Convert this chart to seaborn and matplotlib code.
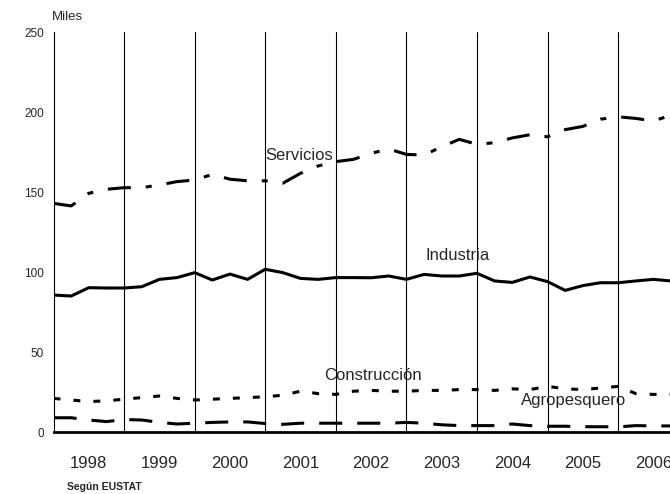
import matplotlib
matplotlib.use('Agg')
import matplotlib.pyplot as plt
import numpy as np
import pandas as pd
import seaborn as sns

# Ocupados por sector (miles), datos trimestrales 1998-2006
anios = [1998, 1999, 2000, 2001, 2002, 2003, 2004, 2005, 2006]
servicios = [142.9, 141.3, 149.2, 151.7, 152.7, 152.7, 154.4, 156.5, 157.5, 161.0,
             158.0, 157.0, 157.0, 155.5, 161.7, 166.3, 169.0, 170.4, 174.2, 176.9,
             173.5, 173.1, 178.3, 182.9, 179.8, 180.8, 183.8, 185.8, 184.5, 189.0,
             191.0, 195.5, 197.0, 196.0, 194.4, 198.0]
industria = [85.6, 85.0, 90.2, 90.0, 90.0, 90.8, 95.4, 96.5, 99.6, 95.0,
             98.7, 95.4, 101.7, 99.6, 96.0, 95.4, 96.5, 96.5, 96.4, 97.5,
             95.4, 98.5, 97.5, 97.5, 99.2, 94.4, 93.5, 96.9, 94.0, 88.5,
             91.5, 93.3, 93.3, 94.4, 95.4, 94.4]
construccion = [21.0, 20.0, 19.0, 19.5, 20.5, 21.5, 22.5, 21.0, 20.0, 20.5,
                21.0, 21.5, 22.0, 23.0, 25.5, 24.0, 23.5, 25.5, 26.0, 25.5,
                25.5, 26.0, 26.0, 26.5, 26.5, 26.0, 27.0, 26.5, 28.5, 27.0,
                26.5, 27.5, 28.5, 24.0, 23.5, 23.5]
agropesquero = [8.9, 8.9, 7.5, 6.5, 7.8, 7.5, 6.0, 5.0, 5.5, 6.0,
                6.3, 6.3, 5.3, 4.8, 5.5, 5.5, 5.5, 5.5, 5.5, 5.5,
                6.0, 5.5, 4.5, 4.0, 4.0, 4.0, 5.0, 4.0, 3.6, 3.6,
                3.3, 3.3, 3.2, 4.0, 3.8, 3.8]

series = {
    "Servicios": servicios,
    "Industria": industria,
    "Construcción": construccion,
    "Agropesquero": agropesquero,
}
frames = []
for nombre, vals in series.items():
    frames.append(pd.DataFrame({"t": np.arange(len(vals)), "miles": vals, "sector": nombre}))
df = pd.concat(frames, ignore_index=True)

sns.set_style("white")
plt.rcParams['font.family'] = ['Liberation Sans', 'DejaVu Sans']
plt.rcParams['lines.scale_dashes'] = False

fig = plt.figure(figsize=(6.7, 4.94), dpi=100)
# el eje se sale por la derecha, como en el original (recortado)
ax = fig.add_axes([0.0799, 0.1255, 0.948, 0.8097])

estilos = {
    "Servicios": (16.6, 10.8, 4.3, 10.8),
    "Industria": "",
    "Construcción": (5.0, 9.4),
    "Agropesquero": (16.6, 10.8),
}
sns.lineplot(data=df, x="t", y="miles", hue="sector", style="sector",
             palette={k: "black" for k in series}, dashes=estilos,
             linewidth=2.2, legend=False, ax=ax)

n_trim = 4
limites = np.arange(n_trim, n_trim * len(anios) + 1, n_trim)
for b in limites:
    ax.axvline(b, color="black", lw=0.8, zorder=0)

ax.set_xlim(0, n_trim * len(anios))
ax.set_ylim(0, 250)
ax.set_yticks(np.arange(0, 251, 50))
ax.set_xticks(limites)
ax.set_xticklabels([])
ax.set_xticks(np.arange(len(anios)) * n_trim + n_trim / 2, minor=True)
ax.set_xticklabels([str(a) for a in anios], minor=True, fontsize=12)
ax.tick_params(axis="x", which="major", direction="out", length=4, width=0.8, color="black")
ax.tick_params(axis="x", which="minor", length=0, pad=17)
ax.tick_params(axis="y", direction="out", length=4, width=0.8, color="black",
               labelsize=8.5, pad=3)
ax.set_xlabel("")
ax.set_ylabel("")

for s in ["top", "right"]:
    ax.spines[s].set_visible(False)
ax.spines["left"].set_color("black")
ax.spines["left"].set_linewidth(0.8)
ax.spines["bottom"].set_color("black")
ax.spines["bottom"].set_linewidth(2)

ax.text(13.9, 173, "Servicios", fontsize=12, ha="center", va="center")
ax.text(22.9, 110.5, "Industria", fontsize=12, ha="center", va="center")
ax.text(18.1, 35.5, "Construcción", fontsize=12, ha="center", va="center")
ax.text(29.5, 20, "Agropesquero", fontsize=12, ha="center", va="center")

fig.text(52 / 670, 1 - 17 / 494, "Miles", fontsize=9.5, ha="left", va="center")
fig.text(67 / 670, 1 - 487 / 494, "Según EUSTAT", fontsize=7.5, fontweight="bold",
         ha="left", va="center")

fig.savefig("out.png", dpi=100)
